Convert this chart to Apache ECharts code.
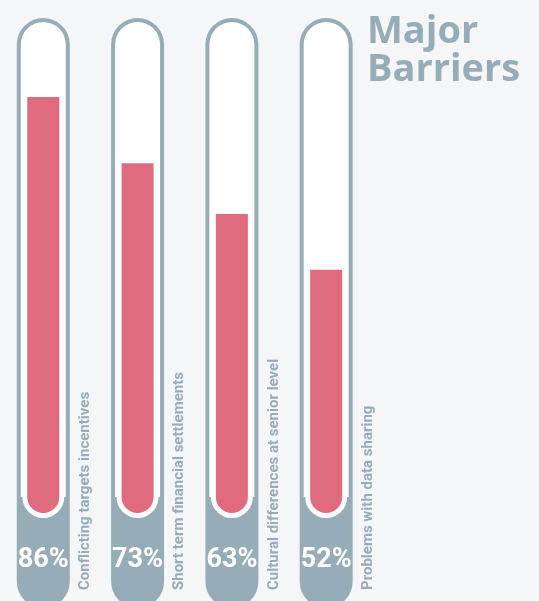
<!DOCTYPE html>
<html>
<head>
<meta charset="utf-8">
<script src="https://cdn.jsdelivr.net/npm/echarts@6/dist/echarts.min.js"></script>
<style>
html,body{margin:0;padding:0;background:#f4f6f8;}
#chart{width:539px;height:601px;}
</style>
</head>
<body>
<div id="chart"></div>
<script>
const categories = ['Conflicting targets incentives', 'Short term financial settlements', 'Cultural differences at senior level', 'Problems with data sharing'];
const values = [86, 73, 63, 52];
const titleText = 'Major\nBarriers';

const GRAY = '#96adb8';
const RED = '#e06a7e';
const FONT = 'Roboto, "DejaVu Sans", sans-serif';

const chart = echarts.init(document.getElementById('chart'), null, {renderer: 'canvas'});

function renderItem(params, api) {
  const idx = api.value(0);
  const v = api.value(1);
  const top = api.coord([idx, v]);
  const cx = top[0];
  const yTop = top[1];
  const halfOuter = 26.5;
  const border = 4;
  const tubeTop = 18, tubeBottom = 608;
  const whiteBottom = 497;
  const redHalf = 16;
  const redBottom = 513;
  const ring = 5;
  return {
    type: 'group',
    children: [
      { type: 'rect', shape: { x: cx - halfOuter, y: tubeTop, width: halfOuter * 2, height: tubeBottom - tubeTop, r: halfOuter }, style: { fill: GRAY } },
      { type: 'rect', shape: { x: cx - halfOuter + border, y: tubeTop + border, width: (halfOuter - border) * 2, height: whiteBottom - tubeTop - border, r: [halfOuter - border, halfOuter - border, 0, 0] }, style: { fill: '#ffffff' } },
      { type: 'rect', shape: { x: cx - redHalf - ring, y: yTop - ring, width: (redHalf + ring) * 2, height: redBottom + ring - yTop + ring, r: [0, 0, redHalf + ring, redHalf + ring] }, style: { fill: '#ffffff' } },
      { type: 'rect', shape: { x: cx - redHalf, y: yTop, width: redHalf * 2, height: redBottom - yTop, r: [0, 0, redHalf, redHalf] }, style: { fill: RED } },
      { type: 'text', x: cx, y: 560, style: { text: v + '%', fill: '#ffffff', font: 'bold 27px ' + FONT, align: 'center', verticalAlign: 'middle' } },
      { type: 'text', x: cx + 42, y: 590, rotation: Math.PI / 2, style: { text: categories[idx], fill: GRAY, font: 'bold 15px ' + FONT, align: 'left', verticalAlign: 'middle' } }
    ]
  };
}

chart.setOption({
  backgroundColor: '#f4f6f8',
  animation: false,
  title: {
    text: titleText,
    left: 362,
    top: 8,
    textStyle: { fontFamily: '"Open Sans", Roboto, sans-serif', fontSize: 38, fontWeight: 'bold', color: GRAY, lineHeight: 38 }
  },
  grid: { left: 0, right: 0, top: 26, bottom: 67 },
  xAxis: { type: 'value', min: -0.459, max: 5.257, show: false },
  yAxis: { type: 'value', min: 0, max: 100, show: false },
  series: [{
    type: 'custom',
    renderItem: renderItem,
    clip: false,
    data: values.map((v, i) => [i, v])
  }]
});
</script>
</body>
</html>
